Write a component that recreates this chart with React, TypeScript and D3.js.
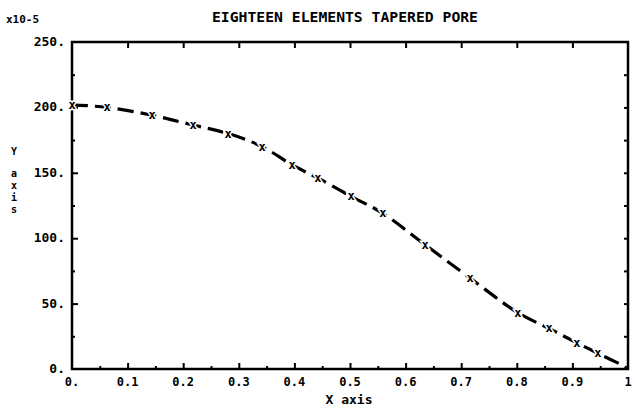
import React, { useEffect, useRef } from 'react';
import * as d3 from 'd3';

// readings (y in units of 1e-5)
const xValues = [0, 0.063, 0.144, 0.218, 0.281, 0.342, 0.396, 0.442, 0.502, 0.559, 0.635, 0.716, 0.802, 0.858, 0.908, 0.946, 0.975, 0.993, 1];
const yValues = [202, 200, 194, 186.5, 180, 170, 156, 146, 132, 119, 95, 69.5, 43, 31, 20, 12, 6, 2, 0];
const markerCount = 16; // the last points form the closing hook, no marker

const xTicks = [0, 0.1, 0.2, 0.3, 0.4, 0.5, 0.6, 0.7, 0.8, 0.9, 1];
const xTickLabels = ['0.', '0.1', '0.2', '0.3', '0.4', '0.5', '0.6', '0.7', '0.8', '0.9', '1'];
const yTicks = [0, 50, 100, 150, 200, 250];
const yTickLabels = ['0.', '50.', '100.', '150.', '200.', '250.'];

const FONT = '"DejaVu Sans Mono", monospace';

const App = () => {
    const ref = useRef<SVGSVGElement>(null);

    useEffect(() => {
        if (!ref.current) return;
        const svg = d3.select(ref.current);
        svg.selectAll('*').remove();

        const left = 72, right = 628, top = 42, bottom = 369;
        const x = d3.scaleLinear().domain([0, 1]).range([left, right]);
        const y = d3.scaleLinear().domain([0, 250]).range([bottom, top]);

        svg.append('rect').attr('width', 635).attr('height', 410).attr('fill', '#fff');

        const minorX = d3.range(0.05, 1, 0.1);
        const minorY = d3.range(25, 250, 50);

        // tick marks, all pointing inward
        const tickAxis = (axis: any, vals: number[], size: number, tr: string) => {
            const g = svg.append('g').attr('transform', tr)
                .call(axis.tickValues(vals).tickSize(size).tickFormat(() => ''));
            g.select('.domain').remove();
            g.selectAll('line').attr('stroke', '#000').attr('stroke-width', 2);
        };
        tickAxis(d3.axisBottom(x), xTicks.slice(1, -1), -6, `translate(0,${bottom})`);
        tickAxis(d3.axisBottom(x), minorX, -3, `translate(0,${bottom})`);
        tickAxis(d3.axisTop(x), xTicks.slice(1, -1), -6, `translate(0,${top})`);
        tickAxis(d3.axisLeft(y), yTicks.slice(1, -1), -6, `translate(${left},0)`);
        tickAxis(d3.axisLeft(y), minorY, -3, `translate(${left},0)`);
        tickAxis(d3.axisRight(y), d3.range(25, 250, 25), -4, `translate(${right},0)`);

        // frame
        svg.append('rect')
            .attr('x', left).attr('y', top)
            .attr('width', right - left).attr('height', bottom - top)
            .attr('fill', 'none').attr('stroke', '#000').attr('stroke-width', 2.5);

        // tick labels
        svg.append('g').selectAll('text').data(xTicks).join('text')
            .attr('x', d => x(d)).attr('y', 386)
            .attr('text-anchor', 'middle')
            .attr('font-family', FONT).attr('font-weight', 'bold').attr('font-size', 12)
            .text((d, i) => xTickLabels[i]);
        svg.append('g').selectAll('text').data(yTicks).join('text')
            .attr('x', 65).attr('y', d => y(d) + 4)
            .attr('text-anchor', 'end')
            .attr('font-family', FONT).attr('font-weight', 'bold').attr('font-size', 13)
            .text((d, i) => yTickLabels[i]);

        // dashed curve, straight pieces between the plotted points
        const pts: [number, number][] = xValues.map((v, i) => [v, yValues[i]]);
        const line = d3.line<[number, number]>()
            .x(d => x(d[0])).y(d => y(d[1]))
            .curve(d3.curveCatmullRom.alpha(0.5));
        svg.append('path').datum(pts)
            .attr('d', line)
            .attr('fill', 'none').attr('stroke', '#000')
            .attr('stroke-width', 3.2).attr('stroke-dasharray', '16 7');

        // markers, with a white halo so the dashes break around them
        svg.append('g').selectAll('text').data(pts.slice(0, markerCount)).join('text')
            .attr('x', d => x(d[0])).attr('y', d => y(d[1]) + 4)
            .attr('text-anchor', 'middle')
            .attr('font-family', FONT).attr('font-weight', 'bold').attr('font-size', 12)
            .attr('stroke', '#fff').attr('stroke-width', 3).attr('paint-order', 'stroke')
            .text('x');

        // titles
        svg.append('text').attr('x', 345).attr('y', 22).attr('text-anchor', 'middle')
            .attr('font-family', FONT).attr('font-weight', 'bold').attr('font-size', 14)
            .attr('textLength', 266).attr('lengthAdjust', 'spacingAndGlyphs')
            .text('EIGHTEEN ELEMENTS TAPERED PORE');
        svg.append('text').attr('x', 6).attr('y', 23)
            .attr('font-family', FONT).attr('font-weight', 'bold').attr('font-size', 11)
            .text('x10-5');
        svg.append('text').attr('x', 349).attr('y', 404).attr('text-anchor', 'middle')
            .attr('font-family', FONT).attr('font-weight', 'bold').attr('font-size', 13)
            .text('X axis');
        const yLetters = ['Y', 'a', 'x', 'i', 's'];
        const yPos = [155, 177, 189, 201, 213];
        svg.append('g').selectAll('text').data(yLetters).join('text')
            .attr('x', 14).attr('y', (d, i) => yPos[i]).attr('text-anchor', 'middle')
            .attr('font-family', FONT).attr('font-weight', 'bold').attr('font-size', 10)
            .text(d => d);
    }, []);

    return (
        <svg ref={ref} width={635} height={410}
            style={{ position: 'absolute', left: 0, top: 0, display: 'block' }} />
    );
};

export default App;
